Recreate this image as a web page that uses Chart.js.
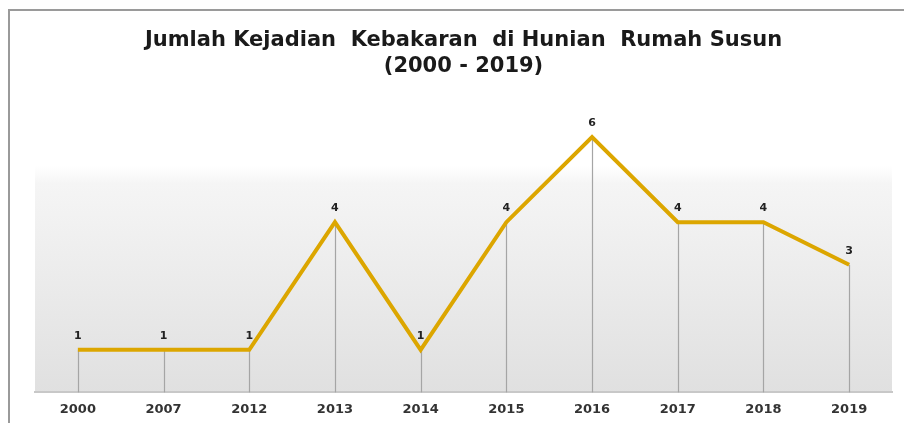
<!DOCTYPE html>
<html>
<head>
<meta charset="utf-8">
<script src="https://cdn.jsdelivr.net/npm/chart.js@4.4.1/dist/chart.umd.min.js"></script>
<style>
  html, body { margin: 0; padding: 0; background: #fff; }
  #wrap { width: 904px; height: 423px; position: relative; }
</style>
</head>
<body>
<div id="wrap"><canvas id="lineChart" width="904" height="423"></canvas></div>
<script>
// Data
const years = ['2000', '2007', '2012', '2013', '2014', '2015', '2016', '2017', '2018', '2019'];
const kejadian = [1, 1, 1, 4, 1, 4, 6, 4, 4, 3];
const titleLines = ['Jumlah Kejadian  Kebakaran  di Hunian  Rumah Susun', '(2000 - 2019)'];

// Frame + plot area gradient
const backdrop = {
    id: 'backdrop',
    beforeDraw(chart) {
        const c = chart.ctx;
        const a = chart.chartArea;
        c.save();
        c.fillStyle = '#fff';
        c.fillRect(0, 0, chart.width, chart.height);
        const g = c.createLinearGradient(0, a.top, 0, a.bottom);
        g.addColorStop(0, '#ffffff');
        g.addColorStop(0.24, '#ffffff');
        g.addColorStop(0.3, '#f5f5f5');
        g.addColorStop(1, '#e0e0e0');
        c.fillStyle = g;
        c.fillRect(a.left, a.top, a.right - a.left, a.bottom - a.top);
        // outer border
        c.strokeStyle = '#9a9a9a';
        c.lineWidth = 2;
        c.beginPath();
        c.moveTo(9, chart.height);
        c.lineTo(9, 10);
        c.lineTo(chart.width, 10);
        c.stroke();
        c.restore();
    }
};

// Drop lines from each point to the axis
const dropLines = {
    id: 'dropLines',
    beforeDatasetsDraw(chart) {
        const c = chart.ctx;
        const meta = chart.getDatasetMeta(0);
        c.save();
        c.strokeStyle = '#a5a5a5';
        c.lineWidth = 1.2;
        meta.data.forEach(p => {
            c.beginPath();
            c.moveTo(Math.round(p.x) + 0.5, p.y);
            c.lineTo(Math.round(p.x) + 0.5, chart.chartArea.bottom);
            c.stroke();
        });
        c.restore();
    }
};

// Value labels above points
const valueLabels = {
    id: 'valueLabels',
    afterDatasetsDraw(chart) {
        const c = chart.ctx;
        const meta = chart.getDatasetMeta(0);
        const vals = chart.data.datasets[0].data;
        c.save();
        c.font = 'bold 11px "DejaVu Sans"';
        c.fillStyle = '#222';
        c.textAlign = 'center';
        c.textBaseline = 'middle';
        meta.data.forEach((p, i) => {
            c.fillText(vals[i], p.x, p.y - 14);
        });
        c.restore();
    }
};

const ctx = document.getElementById('lineChart').getContext('2d');
const lineChart = new Chart(ctx, {
    type: 'line',
    data: {
        labels: years,
        datasets: [{
            data: kejadian,
            borderColor: '#DCA600',
            borderWidth: 4,
            pointRadius: 0,
            tension: 0,
            fill: false
        }]
    },
    options: {
        responsive: false,
        animation: false,
        layout: { padding: { left: 35, right: 12, top: 0, bottom: -3 } },
        plugins: {
            legend: { display: false },
            tooltip: { enabled: false },
            title: {
                display: true,
                text: titleLines,
                color: '#1a1a1a',
                font: { family: '"DejaVu Sans"', size: 21, weight: 'bold', lineHeight: 1.25 },
                padding: { top: 27, bottom: 15 }
            }
        },
        scales: {
            x: {
                offset: true,
                grid: { display: false, drawTicks: false },
                border: { display: true, color: '#c8c8c8', width: 2 },
                ticks: {
                    color: '#333',
                    padding: 9,
                    font: { family: '"DejaVu Sans"', size: 13, weight: 'bold' }
                }
            },
            y: {
                display: false,
                min: 0,
                max: 7
            }
        }
    },
    plugins: [backdrop, dropLines, valueLabels]
});
</script>
</body>
</html>
